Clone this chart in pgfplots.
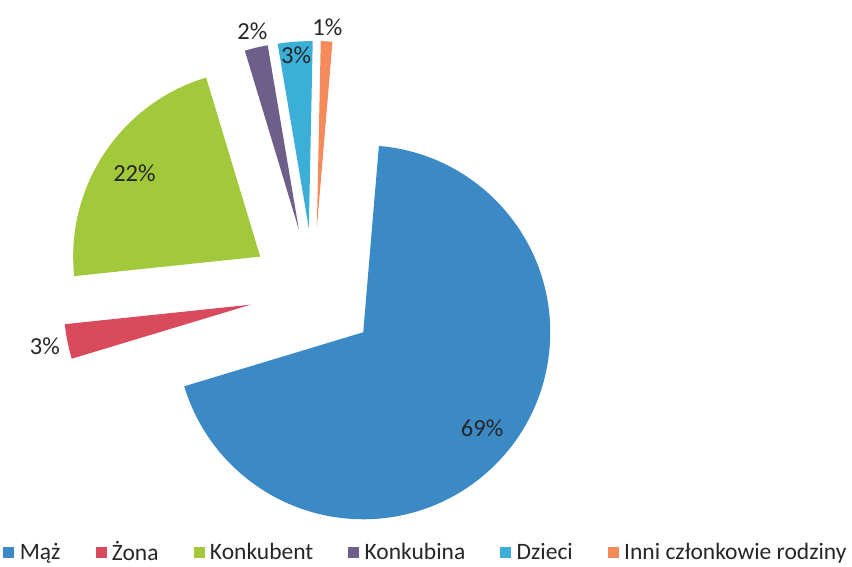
\documentclass[border=0pt]{standalone}
\usepackage{fontspec}
\setmainfont{Carlito}
\usepackage{pgfplots}
\usepackage{pgfplotstable}
\pgfplotsset{compat=1.18}
\usetikzlibrary{calc}
\definecolor{cMaz}{HTML}{3B8AC6}
\definecolor{cZona}{HTML}{D94A5C}
\definecolor{cKonkubent}{HTML}{A2C83C}
\definecolor{cKonkubina}{HTML}{6E5E8A}
\definecolor{cDzieci}{HTML}{3BAFD8}
\definecolor{cInni}{HTML}{F58A5A}
\definecolor{labcol}{HTML}{262626}
% value = share in percent, lab = distance of the label from the slice apex (pt)
\pgfplotstableread{
idx value lab
0 69 153
1 3 210
2 22 151
3 2 204
4 3 173
5 1 201
}\piedata
\begin{document}
\begin{tikzpicture}
\begin{axis}[
  hide axis, scale only axis,
  width=852pt, height=564pt,
  xmin=0, xmax=852, ymin=0, ymax=564,
  clip=false,
  legend columns=6,
  legend cell align=left,
  legend style={draw=none, fill=none, at={(0.5,0.021)}, anchor=center,
    font=\fontsize{23.5}{23.5}\selectfont, text=labcol,
    /tikz/every even column/.append style={column sep=33pt},
    /tikz/every odd column/.append style={column sep=4pt},
    nodes={inner xsep=2pt}},
]
\addlegendimage{legend image code/.code={\fill[cMaz] (0pt,-5pt) rectangle (10pt,5pt);}}
\addlegendentry{Mąż}
\addlegendimage{legend image code/.code={\fill[cZona] (0pt,-5pt) rectangle (10pt,5pt);}}
\addlegendentry{Żona}
\addlegendimage{legend image code/.code={\fill[cKonkubent] (0pt,-5pt) rectangle (10pt,5pt);}}
\addlegendentry{Konkubent}
\addlegendimage{legend image code/.code={\fill[cKonkubina] (0pt,-5pt) rectangle (10pt,5pt);}}
\addlegendentry{Konkubina}
\addlegendimage{legend image code/.code={\fill[cDzieci] (0pt,-5pt) rectangle (10pt,5pt);}}
\addlegendentry{Dzieci}
\addlegendimage{legend image code/.code={\fill[cInni] (0pt,-5pt) rectangle (10pt,5pt);}}
\addlegendentry{Inni członkowie rodziny}
\pgfplotsextra{%
  \path (axis cs:0,0) rectangle (axis cs:852,564);
  \xdef\cumang{85.2}%
  \foreach \i/\col in {0/cMaz,1/cZona,2/cKonkubent,3/cKonkubina,4/cDzieci,5/cInni}{%
    \pgfplotstablegetelem{\i}{value}\of\piedata \let\val\pgfplotsretval
    \pgfplotstablegetelem{\i}{lab}\of\piedata \let\labr\pgfplotsretval
    \pgfmathsetmacro\startang{\cumang}%
    \pgfmathsetmacro\endang{\cumang-3.6*\val}%
    \pgfmathsetmacro\midang{\cumang-1.8*\val}%
    \coordinate (apex) at ($(axis cs:313.5,272)+(\midang:64pt)$);
    \fill[\col] (apex) -- ($(apex)+(\startang:187pt)$)
      arc[start angle=\startang, end angle=\endang, radius=187pt] -- cycle;
    \node[font=\fontsize{24.5}{24.5}\selectfont, text=labcol, inner sep=0pt]
      at ($(apex)+(\midang:\labr pt)$) {\val\%};
    \xdef\cumang{\endang}%
  }%
}
\end{axis}
\end{tikzpicture}
\end{document}
